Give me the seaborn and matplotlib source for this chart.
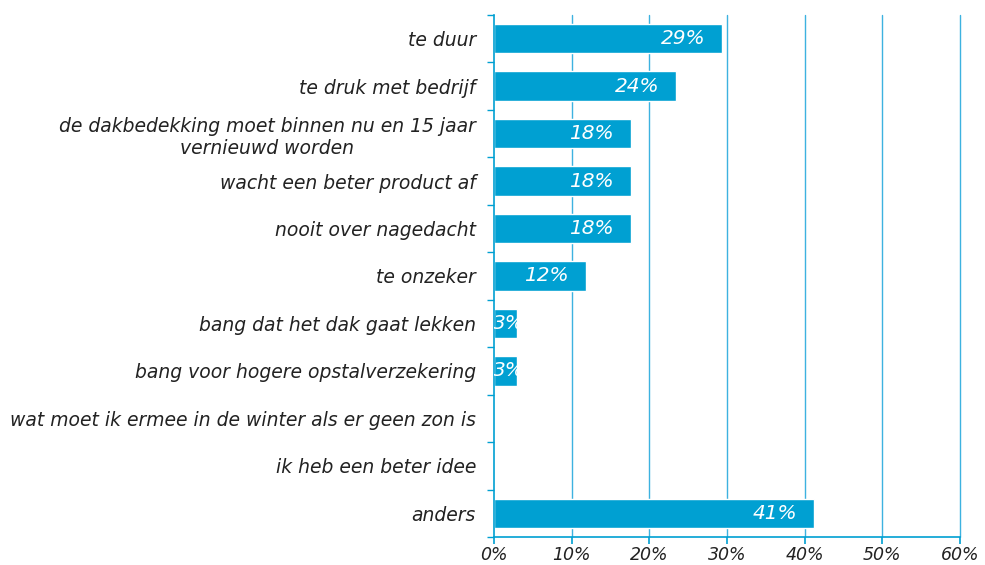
import numpy as np
import pandas as pd
import matplotlib
matplotlib.use("Agg")
import matplotlib.pyplot as plt
import seaborn as sns

categories = [
    "te duur",
    "te druk met bedrijf",
    "de dakbedekking moet binnen nu en 15 jaar\nvernieuwd worden",
    "wacht een beter product af",
    "nooit over nagedacht",
    "te onzeker",
    "bang dat het dak gaat lekken",
    "bang voor hogere opstalverzekering",
    "wat moet ik ermee in de winter als er geen zon is",
    "ik heb een beter idee",
    "anders",
]
values = [29.4, 23.5, 17.6, 17.6, 17.6, 11.8, 2.9, 2.9, 0, 0, 41.2]
labels = ["29%", "24%", "18%", "18%", "18%", "12%", "3%", "3%", "", "", "41%"]
xticks = [0, 10, 20, 30, 40, 50, 60]

BAR = "#00A0D2"
GRID = "#3DB2E0"

def main():
    sns.set_style("white")
    plt.rcParams['font.family'] = ['DejaVu Sans']

    df = pd.DataFrame({"reden": categories, "pct": values})

    fig = plt.figure(figsize=(9.85, 5.65), dpi=100)
    ax = fig.add_axes([0.5015, 0.0496, 0.4731, 0.9239])

    sns.barplot(data=df, x="pct", y="reden", orient="h", color=BAR,
                saturation=1, width=0.62, ax=ax, zorder=3)

    ax.set_xlim(0, 60)
    ax.set_ylim(len(categories) - 0.5, -0.5)
    ax.set_xlabel("")
    ax.set_ylabel("")

    # grid
    for x in xticks[1:]:
        ax.axvline(x, color=GRID, lw=1, zorder=1, clip_on=False)

    for s in ["top", "right"]:
        ax.spines[s].set_visible(False)
    for s in ["left", "bottom"]:
        ax.spines[s].set_color(BAR)
        ax.spines[s].set_linewidth(1.2)
        ax.spines[s].set_zorder(4)

    ax.set_xticks(xticks)
    ax.set_xticklabels([f"{x}%" for x in xticks], fontstyle="italic",
                       fontsize=12.5, color="#222222")
    ax.tick_params(axis="x", which="major", bottom=True, direction="out",
                   length=5, width=1.2, color=BAR, pad=1.5)

    ax.set_yticks(range(len(categories)))
    ax.set_yticklabels(categories, fontstyle="italic", fontsize=13.5,
                       color="#222222", multialignment="center")
    ax.tick_params(axis="y", left=False, length=0, pad=13)
    # boundary ticks on y axis
    ax.set_yticks(np.arange(-0.5, len(categories)), minor=True)
    ax.tick_params(axis="y", which="minor", left=True, direction="out",
                   length=5, width=1, color=BAR)

    for i, (v, lab) in enumerate(zip(values, labels)):
        if not lab:
            continue
        if v > 6:
            ax.text(v - 2.2, i, lab, ha="right", va="center", color="white",
                    fontstyle="italic", fontsize=14.5, zorder=5)
        else:
            ax.text(-0.15, i, lab, ha="left", va="center", color="white",
                    fontstyle="italic", fontsize=14.5, zorder=5, clip_on=True)

    fig.savefig("out.png", dpi=100)

if __name__ == '__main__':
    main()
